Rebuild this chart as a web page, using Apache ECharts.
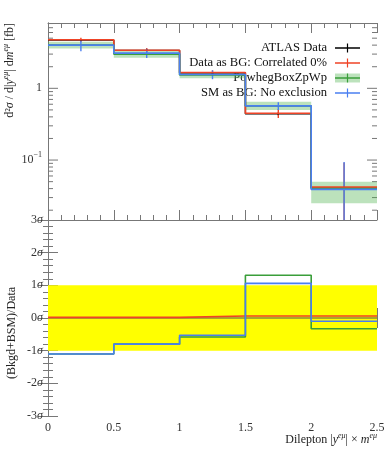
<!DOCTYPE html>
<html><head><meta charset="utf-8">
<script src="https://cdn.jsdelivr.net/npm/echarts@6/dist/echarts.min.js"></script>
<style>html,body{margin:0;padding:0;background:#fff}#c{width:389px;height:450px}</style>
</head><body><div id="c"></div>
<script>
// ---- data ----
const binEdges = [0, 0.5, 1, 1.5, 2, 2.5];
const xTickLabels = ['0', '0.5', '1', '1.5', '2', '2.5'];
const atlasData = [4.70, 3.38, 1.64, 0.44, 0.041];
const atlasErr = [0.12, 0.09, 0.04, 0.02, 0.002];
const dataAsBG = [4.75, 3.40, 1.66, 0.45, 0.042];
const dataAsBGErr = [0.3, 0.25, 0.12, 0.065, 0.05];
const powheg = [4.0, 3.0, 1.53, 0.57, 0.040];
const powhegLo = [3.6, 2.67, 1.38, 0.50, 0.025];
const powhegHi = [4.45, 3.31, 1.67, 0.65, 0.050];
const smAsBG = [4.0, 3.1, 1.56, 0.57, 0.039];
const smAsBGErr = [0.7, 0.45, 0.22, 0.07, 0.055];
const ratioData = [0, 0, 0, 0, 0];
const ratioDataAsBG = [0.02, 0.02, 0.06, 0.06, 0.06];
const ratioPowheg = [-1.1, -0.8, -0.58, 1.31, -0.33];
const ratioSM = [-1.1, -0.8, -0.53, 1.06, -0.10];
const sigmaBand = [-1, 1];
const legendNames = ['ATLAS Data', 'Data as BG: Correlated 0%', 'PowhegBoxZpWp', 'SM as BG: No exclusion'];

// ---- styles ----
const FONT = 'Liberation Serif';
const AX = '#777';
const C_BLACK = '#000000', C_RED = '#ef4326', C_GREEN = '#3a9e3a', C_BAND = 'rgba(80,180,80,0.38)', C_BLUE = '#4a7ff0', C_YEL = '#ffff00';

function stepData(vals) {
  const pts = vals.map((v, i) => [binEdges[i], v]);
  pts.push([binEdges[binEdges.length - 1], vals[vals.length - 1]]);
  return pts;
}
function centers() { return binEdges.slice(0, -1).map((e, i) => (e + binEdges[i + 1]) / 2); }

function stepSeries(vals, color, xi, yi, width) {
  return { type: 'line', xAxisIndex: xi, yAxisIndex: yi, step: 'end', data: stepData(vals),
    showSymbol: false, symbol: 'none', lineStyle: { color: color, width: width || 1.6 }, silent: true, animation: false, clip: true };
}
function errSeries(vals, errs, color) {
  const cs = centers();
  return { type: 'custom', xAxisIndex: 0, yAxisIndex: 0, clip: true, silent: true, animation: false,
    data: vals.map((v, i) => [cs[i], v, errs[i]]),
    renderItem: function (params, api) {
      const x = api.value(0), v = api.value(1), e = api.value(2);
      const lo = Math.max(v - e, 1e-5);
      const p1 = api.coord([x, v + e]), p2 = api.coord([x, lo]);
      return { type: 'line', shape: { x1: p1[0], y1: p1[1], x2: p2[0], y2: p2[1] }, style: { stroke: color, lineWidth: 1.4 } };
    } };
}
function bandSeries(lo, hi, color, xi, yi) {
  return { type: 'custom', xAxisIndex: xi, yAxisIndex: yi, clip: true, silent: true, animation: false,
    data: lo.map((l, i) => [binEdges[i], binEdges[i + 1], l, hi[i]]),
    renderItem: function (params, api) {
      const a = api.coord([api.value(0), api.value(3)]), b = api.coord([api.value(1), api.value(2)]);
      return { type: 'rect', shape: { x: a[0], y: a[1], width: b[0] - a[0], height: b[1] - a[1] }, style: { fill: color } };
    } };
}

// log-axis ticks (1..9 x 10^d)
const logTicks = [];
for (let d = -2; d <= 0; d++) for (let k = 1; k <= 9; k++) logTicks.push([0, k * Math.pow(10, d), k === 1 ? 1 : 0]);

const xCommon = {
  type: 'value', min: binEdges[0], max: binEdges[binEdges.length - 1], interval: 0.5,
  axisLine: { show: true, lineStyle: { color: AX, width: 1 } },
  axisTick: { show: true, inside: true, length: 10, lineStyle: { color: AX } },
  minorTick: { show: true, splitNumber: 5, length: 5, lineStyle: { color: AX } },
  splitLine: { show: false }, minorSplitLine: { show: false },
  axisLabel: { show: false }
};
const supRich = {
  n: { fontFamily: FONT, fontSize: 12, color: '#333', lineHeight: 18 },
  sup: { fontFamily: FONT, fontSize: 8, color: '#333', lineHeight: 8, verticalAlign: 'top' },
  s: { fontFamily: FONT, fontSize: 12, color: '#333', fontStyle: 'italic', lineHeight: 18 }
};

const option = {
  animation: false,
  backgroundColor: '#fff',
  grid: [
    { left: 48, top: 23, width: 329, height: 197 },
    { left: 48, top: 220, width: 329, height: 196 }
  ],
  xAxis: [
    Object.assign({}, xCommon, { gridIndex: 0, position: 'bottom' }),
    Object.assign({}, xCommon, { gridIndex: 0, position: 'top' }),
    Object.assign({}, xCommon, { gridIndex: 1, position: 'bottom',
      axisLabel: { show: true, margin: 6, fontFamily: FONT, fontSize: 12, color: '#333',
        formatter: function (v) { const i = binEdges.indexOf(v); return i >= 0 ? xTickLabels[i] : ''; } } }),
    Object.assign({}, xCommon, { gridIndex: 1, position: 'top' })
  ],
  yAxis: [
    { type: 'log', logBase: 10, gridIndex: 0, position: 'left', min: 0.0146, max: 8.14,
      axisLine: { show: true, lineStyle: { color: AX } }, axisTick: { show: false }, splitLine: { show: false },
      axisLabel: { show: true, margin: 6, rich: supRich,
        formatter: function (v) {
          const e = Math.log10(v), r = Math.round(e);
          if (Math.abs(e - r) > 1e-6) return '';
          if (r === 0) return '{n|1}';
          return '{n|10}{sup|' + (r < 0 ? '\u2212' : '') + Math.abs(r) + '}';
        } } },
    { type: 'log', logBase: 10, gridIndex: 0, position: 'right', min: 0.0146, max: 8.14,
      axisLine: { show: true, lineStyle: { color: AX } }, axisTick: { show: false }, splitLine: { show: false },
      axisLabel: { show: false } },
    { type: 'value', gridIndex: 1, position: 'left', min: -3, max: 3, interval: 1,
      axisLine: { show: true, lineStyle: { color: AX } },
      axisTick: { show: true, inside: true, length: 10, lineStyle: { color: AX } },
      minorTick: { show: true, splitNumber: 5, length: 5, lineStyle: { color: AX } },
      splitLine: { show: false },
      axisLabel: { show: true, margin: 5, rich: supRich, formatter: function (v) { return '{n|' + v + '}{s|\u03c3}'; } } },
    { type: 'value', gridIndex: 1, position: 'right', min: -3, max: 3, interval: 1,
      axisLine: { show: true, lineStyle: { color: AX } },
      axisTick: { show: true, inside: true, length: 10, lineStyle: { color: AX } },
      minorTick: { show: true, splitNumber: 5, length: 5, lineStyle: { color: AX } },
      splitLine: { show: false }, axisLabel: { show: false } }
  ],
  series: [
    // log ticks on both sides of top panel
    { type: 'custom', xAxisIndex: 0, yAxisIndex: 0, silent: true, animation: false, data: logTicks,
      renderItem: function (params, api) {
        const cs = params.coordSys;
        const y = api.coord([0, api.value(1)])[1];
        if (y < cs.y - 0.5 || y > cs.y + cs.height + 0.5) return null;
        const len = api.value(2) ? 10 : 5;
        return { type: 'group', children: [
          { type: 'line', shape: { x1: cs.x, y1: y, x2: cs.x + len, y2: y }, style: { stroke: AX, lineWidth: 1 } },
          { type: 'line', shape: { x1: cs.x + cs.width - len, y1: y, x2: cs.x + cs.width, y2: y }, style: { stroke: AX, lineWidth: 1 } }
        ] };
      } },
    // top panel
    stepSeries(atlasData, C_BLACK, 0, 0, 1.4),
    errSeries(atlasData, atlasErr, C_BLACK),
    stepSeries(dataAsBG, C_RED, 0, 0),
    errSeries(dataAsBG, dataAsBGErr, C_RED),
    bandSeries(powhegLo, powhegHi, C_BAND, 0, 0),
    stepSeries(powheg, C_GREEN, 0, 0),
    stepSeries(smAsBG, C_BLUE, 0, 0),
    errSeries(smAsBG, smAsBGErr, C_BLUE),
    // ratio panel
    bandSeries([sigmaBand[0]], [sigmaBand[1]], C_YEL, 2, 2),
    stepSeries(ratioData, '#555', 2, 2, 1.2),
    stepSeries(ratioDataAsBG, C_RED, 2, 2),
    stepSeries(ratioPowheg, C_GREEN, 2, 2),
    stepSeries(ratioSM, C_BLUE, 2, 2)
  ],
  graphic: []
};
// yellow band spans the full x range
option.series[9].data = [[binEdges[0], binEdges[binEdges.length - 1], sigmaBand[0], sigmaBand[1]]];

// legend
const legColors = [C_BLACK, C_RED, C_GREEN, C_BLUE];
const legY0 = 48, legDy = 15;
legendNames.forEach(function (name, i) {
  const y = legY0 + i * legDy;
  option.graphic.push({ type: 'text', x: 327, y: y, silent: true,
    style: { text: name, fill: '#111', font: '12.6px "' + FONT + '"', textAlign: 'right', textVerticalAlign: 'middle' } });
  if (i === 2) option.graphic.push({ type: 'rect', shape: { x: 335, y: y - 4.5, width: 25, height: 9 }, style: { fill: C_BAND }, silent: true });
  option.graphic.push({ type: 'line', shape: { x1: 335, y1: y, x2: 360, y2: y }, style: { stroke: legColors[i], lineWidth: 1.5 }, silent: true });
  option.graphic.push({ type: 'line', shape: { x1: 347.5, y1: y - 4.5, x2: 347.5, y2: y + 4.5 }, style: { stroke: legColors[i], lineWidth: 1.2 }, silent: true });
});
const titleRich = {
  n: { fontFamily: FONT, fontSize: 12, fill: '#222', lineHeight: 16 },
  i: { fontFamily: FONT, fontSize: 12, fill: '#222', fontStyle: 'italic', lineHeight: 16 },
  sup: { fontFamily: FONT, fontSize: 8, fill: '#222', fontStyle: 'italic', lineHeight: 8, verticalAlign: 'top' }
};
// x title
option.graphic.push({ type: 'text', x: 377, y: 440, silent: true,
  style: { text: '{n|Dilepton |}{i|y}{sup|e\u03bc}{n|| \u00d7 }{i|m}{sup|e\u03bc}', rich: titleRich, textAlign: 'right', textVerticalAlign: 'middle' } });
// top y title
option.graphic.push({ type: 'text', x: 10, y: 23, rotation: Math.PI / 2, silent: true,
  style: { text: '{n|d\u00b2}{i|\u03c3}{n| / d|}{i|y}{sup|e\u03bc}{n|| d}{i|m}{sup|e\u03bc}{n| [fb]}', rich: titleRich, textAlign: 'right', textVerticalAlign: 'middle' } });
// ratio y title
option.graphic.push({ type: 'text', x: 12, y: 333, rotation: Math.PI / 2, silent: true,
  style: { text: '(Bkgd+BSM)/Data', font: '12px "' + FONT + '"', fill: '#222', textAlign: 'center', textVerticalAlign: 'middle' } });

const chart = echarts.init(document.getElementById('c'), null, { renderer: 'canvas' });
chart.setOption(option);
</script>
</body></html>
